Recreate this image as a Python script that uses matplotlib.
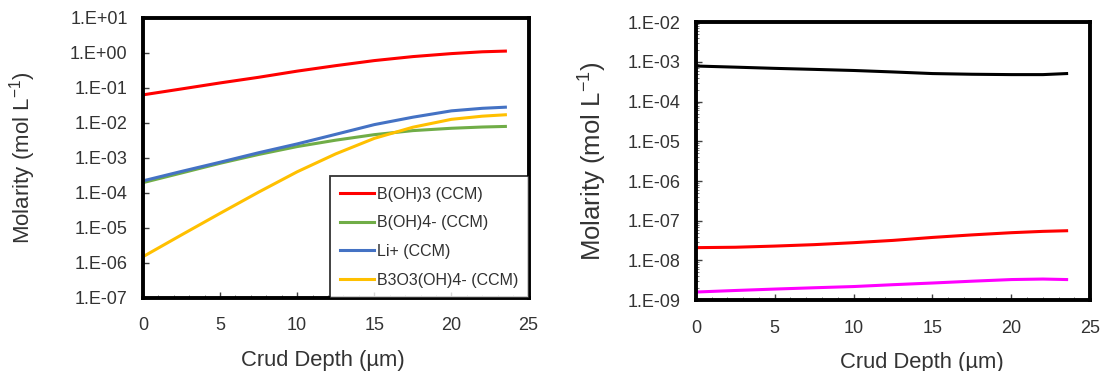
import numpy as np
import matplotlib
matplotlib.use("Agg")
import matplotlib.pyplot as plt
from matplotlib.ticker import FixedLocator, FuncFormatter, LogLocator, NullFormatter

plt.rcParams['font.family'] = ['Liberation Sans', 'DejaVu Sans']

# crud depth (um)
depth = [0, 2.5, 5, 7.5, 10, 12.5, 15, 17.5, 20, 22, 23.5]

# left panel series (mol/L)
boh3 = [0.063, 0.093, 0.138, 0.2, 0.3, 0.43, 0.6, 0.78, 0.95, 1.07, 1.12]
boh4 = [1.96e-4, 3.7e-4, 7e-4, 1.25e-3, 2.1e-3, 3.2e-3, 4.6e-3, 6e-3, 7e-3, 7.6e-3, 7.9e-3]
li = [2.2e-4, 4.1e-4, 7.5e-4, 1.4e-3, 2.5e-3, 4.7e-3, 8.9e-3, 1.45e-2, 2.2e-2, 2.6e-2, 2.8e-2]
b3o3 = [1.5e-6, 6.3e-6, 2.6e-5, 1.05e-4, 4e-4, 1.3e-3, 3.6e-3, 7.5e-3, 1.26e-2, 1.55e-2, 1.7e-2]
left_labels = ['B(OH)3 (CCM)', 'B(OH)4- (CCM)', 'Li+ (CCM)', 'B3O3(OH)4- (CCM)']
left_colors = ['#FF0000', '#70AD47', '#4472C4', '#FFC000']

# right panel series (mol/L)
black_s = [7.9e-4, 7.4e-4, 6.9e-4, 6.5e-4, 6.1e-4, 5.6e-4, 5.1e-4, 4.9e-4, 4.8e-4, 4.8e-4, 5.1e-4]
red_s = [2.1e-8, 2.15e-8, 2.3e-8, 2.5e-8, 2.8e-8, 3.2e-8, 3.8e-8, 4.4e-8, 5e-8, 5.4e-8, 5.6e-8]
mag_s = [1.6e-9, 1.75e-9, 1.9e-9, 2.05e-9, 2.2e-9, 2.45e-9, 2.7e-9, 3e-9, 3.3e-9, 3.4e-9, 3.3e-9]
right_colors = ['black', '#FF0000', '#FF00FF']


def sci_label(v, pos):
    e = int(round(np.log10(v)))
    return "1.E%+03d" % e


def style_axis(ax, lo, hi, ypad, ysize, xlab_x):
    ax.set_yscale('log')
    ax.set_xlim(0, 25)
    ax.set_ylim(10.0 ** lo, 10.0 ** hi)
    ax.yaxis.set_major_locator(FixedLocator([10.0 ** e for e in range(lo, hi + 1)]))
    ax.yaxis.set_major_formatter(FuncFormatter(sci_label))
    ax.yaxis.set_minor_locator(LogLocator(base=10, subs=np.arange(2, 10)))
    ax.yaxis.set_minor_formatter(NullFormatter())
    ax.set_xticks([0, 5, 10, 15, 20, 25])
    ax.set_xticks(np.arange(0, 25, 1), minor=True)
    ax.tick_params(axis='both', which='major', direction='in', length=4, width=1,
                   labelsize=13, colors='#404040', labelcolor='#333333')
    ax.tick_params(axis='x', which='major', pad=14)
    ax.tick_params(axis='y', which='major', pad=11)
    ax.tick_params(axis='both', which='minor', direction='in', length=2, width=0.6, colors='#606060')
    for sp in ax.spines.values():
        sp.set_linewidth(2.8)
        sp.set_color('black')
    ax.set_xlabel('Crud Depth (\u00b5m)', fontsize=15.8, color='#333333', labelpad=11)
    ax.xaxis.label.set_x(xlab_x)
    ax.set_ylabel('Molarity (mol L$^{\\mathregular{-1}}$)', fontsize=ysize, color='#333333',
                  labelpad=ypad)


fig = plt.figure(figsize=(11.08, 3.71), dpi=100)
ax1 = fig.add_axes([0.129, 0.197, 0.348, 0.755])
ax2 = fig.add_axes([0.628, 0.191, 0.356, 0.749])

for ys, lab, c in zip([boh3, boh4, li, b3o3], left_labels, left_colors):
    ax1.plot(depth, ys, color=c, lw=2.2, label=lab)
style_axis(ax1, -7, 1, 23, 16, 0.466)
leg = ax1.legend(loc='lower right', fontsize=11.5, frameon=True, fancybox=False,
                 edgecolor='black', borderaxespad=0, handlelength=2.1,
                 handletextpad=0.2, labelspacing=0.85, borderpad=0.65)
leg.get_frame().set_linewidth(1.3)
for t in leg.get_texts():
    t.set_color('#303030')

for ys, c in zip([black_s, red_s, mag_s], right_colors):
    ax2.plot(depth, ys, color=c, lw=2.2)
style_axis(ax2, -9, -2, 14, 18.5, 0.572)

fig.savefig('out.png', dpi=100)
